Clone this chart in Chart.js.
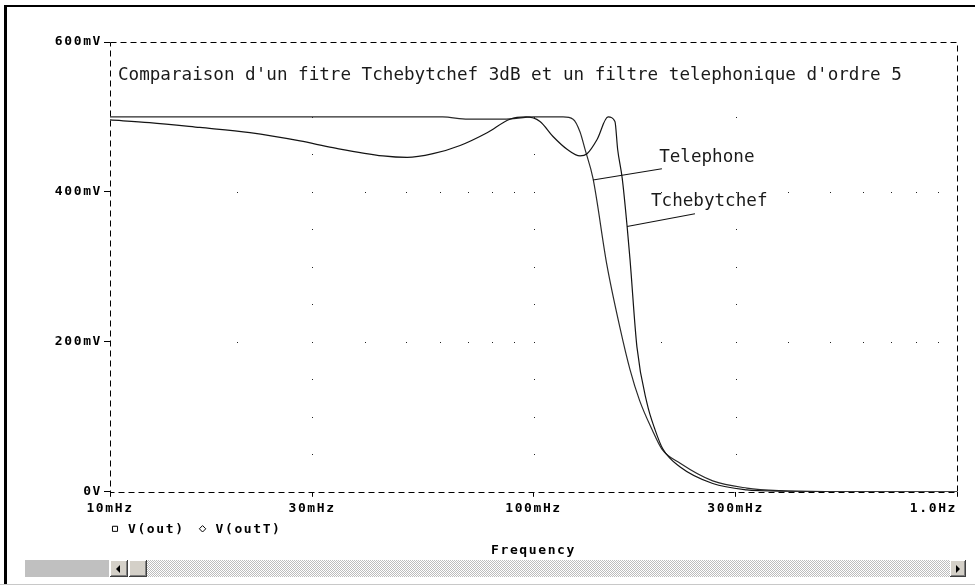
<!DOCTYPE html>
<html>
<head>
<meta charset="utf-8">
<script src="https://cdn.jsdelivr.net/npm/chart.js@4.4.1/dist/chart.umd.min.js"></script>
<style>
  html, body { margin: 0; padding: 0; background: #fff; }
  #wrap { position: relative; width: 975px; height: 586px; overflow: hidden; background: #fff; }
  #chart { position: absolute; left: 0; top: 0; }
  #frameTop { position: absolute; left: 4px; top: 5px; width: 971px; height: 2px; background: #000; }
  #frameLeft { position: absolute; left: 4px; top: 5px; width: 3px; height: 580px; background: #000; }
  #frameBottom { position: absolute; left: 0; top: 584px; width: 975px; height: 1px; background: #c8c8c8; }
  .sb { position: absolute; top: 560px; height: 17px; box-sizing: border-box; }
  #sbGray { left: 25px; width: 84px; background: #c0c0c0; }
  .btn { background: #d4d0c8; box-shadow: inset -1px -1px #404040, inset 1px 1px #fff, inset -2px -2px #808080; }
  #sbLeft { left: 110px; width: 18px; }
  #sbThumb { left: 129px; width: 18px; }
  #sbTrack { left: 147px; width: 803px;
    background-color: #fff;
    background-image: repeating-conic-gradient(#bdbdbd 0% 25%, #fff 0% 50%);
    background-size: 2px 2px; }
  #sbRight { left: 950px; width: 16px; }
  .arrowL, .arrowR { position: absolute; top: 5px; width: 0; height: 0;
    border-top: 4px solid transparent; border-bottom: 4px solid transparent; }
  .arrowL { left: 6px; border-right: 4px solid #000; }
  .arrowR { left: 6px; border-left: 4px solid #000; }
</style>
</head>
<body>
<div id="wrap">
  <canvas id="chart" width="975" height="558"></canvas>
  <div id="frameTop"></div>
  <div id="frameLeft"></div>
  <div id="frameBottom"></div>
  <div class="sb" id="sbGray"></div>
  <div class="sb btn" id="sbLeft"><span class="arrowL"></span></div>
  <div class="sb btn" id="sbThumb"></div>
  <div class="sb" id="sbTrack"></div>
  <div class="sb btn" id="sbRight"><span class="arrowR"></span></div>
</div>
<script>
// values (frequency in Hz, voltage in mV)
const chebFreq = [0.010, 0.0124, 0.0163, 0.0214, 0.0281, 0.0336, 0.0441, 0.0503, 0.0579, 0.0671,
  0.0777, 0.088, 0.096, 0.1036, 0.1112, 0.120, 0.1288, 0.1338, 0.1413, 0.150,
  0.1557, 0.158, 0.162, 0.1663, 0.169, 0.1755, 0.1854, 0.1936, 0.2021, 0.222,
  0.265, 0.319, 0.382, 0.500, 1.000];
const chebMv = [496, 492.5, 486, 479, 468, 459, 448, 446, 451, 462,
  479, 497, 500, 494, 474, 457, 448, 451, 470, 500,
  494, 457, 418, 355, 310, 193, 118, 83, 57, 33,
  11, 2.6, 0.7, 0.1, 0];

const telFreq = [0.010, 0.030, 0.061, 0.070, 0.085, 0.100, 0.1174, 0.124, 0.1288, 0.1323,
  0.1382, 0.149, 0.160, 0.169, 0.178, 0.1905, 0.201, 0.222, 0.265, 0.319,
  0.382, 0.500, 1.000];
const telMv = [500, 500, 500, 497, 497, 500, 500, 497, 480, 457,
  418, 303, 219, 163, 122, 83, 57, 38, 14.5, 5,
  1.5, 0.3, 0];

const seriesNames = ['V(out)', 'V(outT)'];
const seriesMarkers = ['rect', 'rectRot'];

const xTickValues = [0.01, 0.03, 0.1, 0.3, 1];
const xTickLabels = ['10mHz', '30mHz', '100mHz', '300mHz', '1.0Hz'];
const yTickValues = [0, 200, 400, 600];
const yTickLabels = ['0V', '200mV', '400mV', '600mV'];

// dotted grid of the probe window
const gridFreqs = [0.02, 0.03, 0.04, 0.05, 0.06, 0.07, 0.08, 0.09, 0.1,
  0.2, 0.3, 0.4, 0.5, 0.6, 0.7, 0.8, 0.9];
const gridRowsMv = [200, 400];
const gridColsFreq = [0.03, 0.1, 0.3];
const gridColSteps = [50, 100, 150, 200, 250, 300, 350, 400, 450, 500, 550];

const titleText = "Comparaison d'un fitre Tchebytchef 3dB et un filtre telephonique d'ordre 5";
const curveLabels = ['Telephone', 'Tchebytchef'];
const labelAt = [[0.198, 440], [0.1894, 381]];
const leaders = [[[0.1382, 416], [0.201, 431]], [[0.1663, 354], [0.2406, 371]]];

const mono = "'DejaVu Sans Mono', monospace";
const axisFont = { family: mono, size: 13, weight: 'bold' };
const spacing = '1.6px';

const toPoints = (xs, ys) => xs.map((x, i) => ({ x: x, y: ys[i] }));

const scopeDecor = {
  id: 'scopeDecor',
  beforeLayout(chart) { chart.ctx.letterSpacing = spacing; },
  beforeDraw(chart) { chart.ctx.letterSpacing = spacing; },
  beforeDatasetsDraw(chart) {
    const { ctx, chartArea: a, scales: { x, y } } = chart;
    ctx.save();
    ctx.fillStyle = '#222';
    gridRowsMv.forEach(v => gridFreqs.forEach(f => {
      ctx.fillRect(Math.round(x.getPixelForValue(f)), Math.round(y.getPixelForValue(v)), 1, 1);
    }));
    gridColsFreq.forEach(f => gridColSteps.forEach(v => {
      ctx.fillRect(Math.round(x.getPixelForValue(f)), Math.round(y.getPixelForValue(v)), 1, 1);
    }));
    ctx.strokeStyle = '#000';
    ctx.lineWidth = 1;
    ctx.setLineDash([6, 4]);
    ctx.strokeRect(Math.round(a.left) + 0.5, Math.round(a.top) + 0.5,
      Math.round(a.right - a.left), Math.round(a.bottom - a.top));
    ctx.restore();
  },
  afterDraw(chart) {
    const { ctx, chartArea: a, scales: { x, y } } = chart;
    ctx.save();

    // trace legend under the axis, probe style
    ctx.letterSpacing = spacing;
    ctx.font = 'bold 13px ' + mono;
    ctx.textBaseline = 'middle';
    ctx.textAlign = 'left';
    ctx.fillStyle = '#000';
    const ly = a.bottom + 37;
    let lx = a.left + 5;
    seriesNames.forEach((name, i) => {
      ctx.strokeStyle = '#000';
      ctx.fillStyle = '#fff';
      Chart.helpers.drawPoint(ctx, { pointStyle: seriesMarkers[i], radius: i ? 3.2 : 3.6, borderWidth: 1 }, lx, ly);
      ctx.fillStyle = '#000';
      ctx.fillText(name, lx + 13, ly + 1);
      lx += 13 + ctx.measureText(name).width + 18;
    });

    ctx.letterSpacing = '0px';
    ctx.fillStyle = '#1a1a1a';
    ctx.font = '17.6px ' + mono;
    ctx.textBaseline = 'alphabetic';
    ctx.fillText(titleText, a.left + 8, a.top + 38);
    curveLabels.forEach((t, i) => {
      ctx.fillText(t, x.getPixelForValue(labelAt[i][0]), y.getPixelForValue(labelAt[i][1]));
    });
    ctx.strokeStyle = '#111';
    ctx.lineWidth = 1.1;
    leaders.forEach(seg => {
      ctx.beginPath();
      ctx.moveTo(x.getPixelForValue(seg[0][0]), y.getPixelForValue(seg[0][1]));
      ctx.lineTo(x.getPixelForValue(seg[1][0]), y.getPixelForValue(seg[1][1]));
      ctx.stroke();
    });
    ctx.restore();
  }
};

new Chart(document.getElementById('chart'), {
  type: 'line',
  data: {
    datasets: [{
      label: seriesNames[0],
      data: toPoints(chebFreq, chebMv),
      borderColor: '#141414',
      borderWidth: 1.2,
      pointRadius: 0,
      cubicInterpolationMode: 'monotone',
      fill: false
    }, {
      label: seriesNames[1],
      data: toPoints(telFreq, telMv),
      borderColor: '#2a2a2a',
      borderWidth: 1.2,
      pointRadius: 0,
      cubicInterpolationMode: 'monotone',
      fill: false
    }]
  },
  options: {
    responsive: false,
    animation: false,
    events: [],
    layout: { padding: { left: 0, top: 42, right: 18, bottom: 0 } },
    scales: {
      x: {
        type: 'logarithmic',
        min: 0.01,
        max: 1,
        afterBuildTicks: s => { s.ticks = xTickValues.map(v => ({ value: v })); },
        afterFit: s => { s.paddingLeft = 0; s.paddingRight = 0; },
        ticks: {
          autoSkip: false,
          maxRotation: 0,
          padding: 4,
          color: '#000',
          font: axisFont,
          callback: (v, i) => {
            const t = xTickLabels[i];
            // last label sits flush left of its tick, as in the probe window
            return i === xTickLabels.length - 1 ? t + ' '.repeat(t.length) : t;
          }
        },
        title: {
          display: true,
          text: 'Frequency',
          color: '#000',
          font: axisFont,
          padding: { top: 22, bottom: 0 }
        },
        grid: { drawOnChartArea: false, drawTicks: true, tickLength: 5, color: '#000', lineWidth: 1 },
        border: { display: false }
      },
      y: {
        type: 'linear',
        min: 0,
        max: 600,
        afterBuildTicks: s => { s.ticks = yTickValues.map(v => ({ value: v })); },
        afterFit: s => { s.width = 110; },
        ticks: {
          padding: 2,
          color: '#000',
          font: axisFont,
          callback: (v, i) => yTickLabels[i]
        },
        grid: { drawOnChartArea: false, drawTicks: true, tickLength: 6, color: '#000', lineWidth: 1 },
        border: { display: false }
      }
    },
    plugins: {
      legend: { display: false },
      tooltip: { enabled: false }
    }
  },
  plugins: [scopeDecor]
});
</script>
</body>
</html>
